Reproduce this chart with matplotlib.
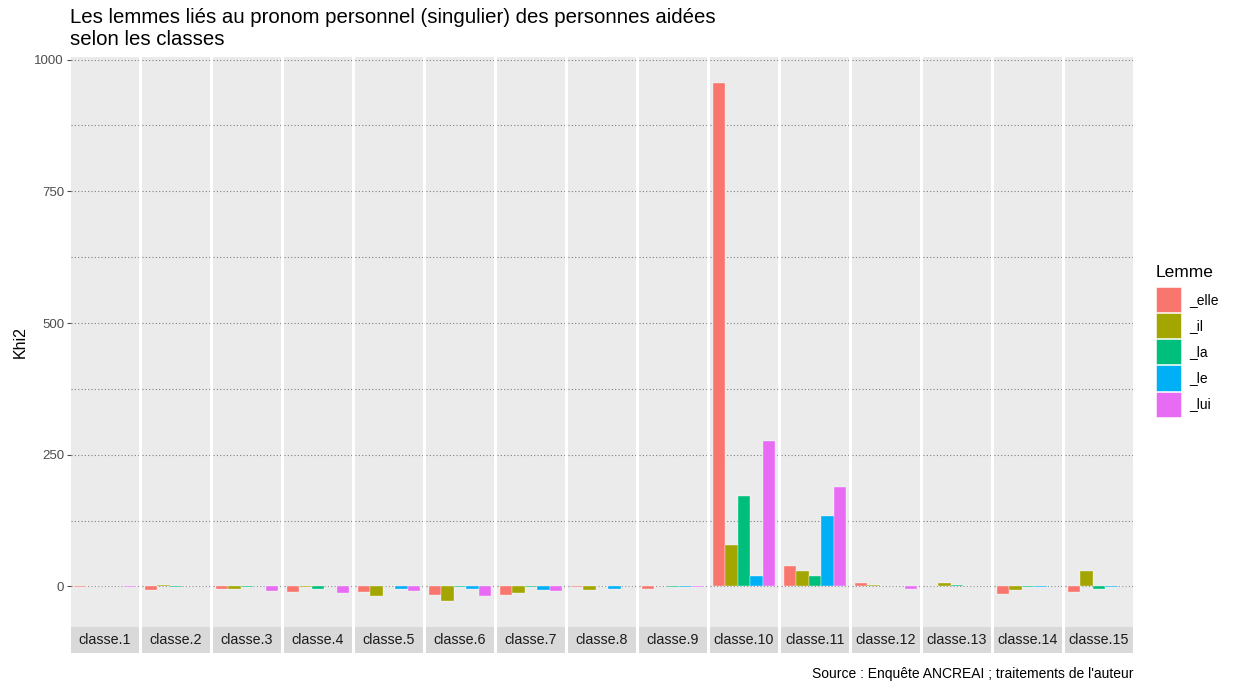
import numpy as np
import matplotlib.pyplot as plt
from matplotlib.patches import Patch

plt.rcParams['font.family'] = ['Liberation Sans', 'DejaVu Sans']

# Data (Khi2 per lemma and class)
classes = ['classe.%d' % i for i in range(1, 16)]
lemmes = ['_elle', '_il', '_la', '_le', '_lui']
colors = ['#F8766D', '#A3A500', '#00BF7D', '#00B0F6', '#E76BF3']

elle = [-2, -6, -5.5, -11, -11, -16.5, -17, -2, -4, 956, 39, 6.5, 0, -15, -11]
il = [0, 3, -4, -2, -19, -28, -12.5, -6, 0, 79, 30, 2.6, 6.5, -6, 30]
la = [0, -2, -2, -4, 0, -2, -2, 0, -2, 172, 20, 0, 2.5, -2, -4]
le = [0, 0, 0, 0, -4, -4, -6, -4, -2, 20, 133, 0, 0, -2, -2]
lui = [-2, 0, -9, -13, -8, -19, -8, 0, -2, 277, 188, -4, 0, 0, 0]
series = [elle, il, la, le, lui]

W, H = 1235, 684
fig = plt.figure(figsize=(W / 100, H / 100), dpi=100)

x0, x1 = 71, 1133
gap = 3
pw = (x1 - x0 - gap * (len(classes) - 1)) / len(classes)
ptop, pbot = 57, 627
sbot = 653
ylim = (-77, 1005)
bw = 0.18

for j, cl in enumerate(classes):
    left = x0 + j * (pw + gap)
    ax = fig.add_axes([left / W, 1 - pbot / H, pw / W, (pbot - ptop) / H])
    ax.set_facecolor('#EBEBEB')
    ax.set_ylim(*ylim)
    ax.set_xlim(0.508, 1.492)
    ax.set_yticks([0, 250, 500, 750, 1000])
    ax.set_yticks([125, 375, 625, 875], minor=True)
    ax.grid(True, which='both', axis='y', color='#7f7f7f', linestyle=(0, (1, 2)), linewidth=0.8)
    ax.set_axisbelow(True)
    for k, vals in enumerate(series):
        ax.bar(1 + (k - 2) * bw, vals[j], width=bw, color=colors[k],
               edgecolor='white', linewidth=0.25)
    for s in ax.spines.values():
        s.set_visible(False)
    ax.set_xticks([])
    if j == 0:
        ax.tick_params(axis='y', which='major', length=3, color='#4d4d4d',
                       labelsize=9.5, labelcolor='#4d4d4d', pad=2)
        ax.tick_params(axis='y', which='minor', length=0)
        ax.set_ylabel('Khi2', fontsize=11.5, labelpad=5)
    else:
        ax.tick_params(axis='y', which='both', length=0, labelleft=False)

    # strip below the panel
    sax = fig.add_axes([left / W, 1 - sbot / H, pw / W, (sbot - pbot) / H])
    sax.set_facecolor('#D9D9D9')
    sax.set_xticks([])
    sax.set_yticks([])
    for s in sax.spines.values():
        s.set_visible(False)
    sax.text(0.5, 0.5, cl, ha='center', va='center', fontsize=10.3,
             color='#1a1a1a', transform=sax.transAxes)

fig.text(70 / W, 1 - 8 / H, 'Les lemmes liés au pronom personnel (singulier) des personnes aidées\nselon les classes',
         ha='left', va='top', fontsize=14.7, linespacing=1.2)
fig.text(x1 / W, 1 - 674 / H, "Source : Enquête ANCREAI ; traitements de l'auteur",
         ha='right', va='center', fontsize=10)

handles = [Patch(facecolor=c, edgecolor='white', linewidth=0.4) for c in colors]
leg = fig.legend(handles, lemmes, loc='upper left', bbox_to_anchor=(1156 / W, 1 - 265 / H),
                 frameon=False, fontsize=10, title='Lemme', title_fontsize=12.5,
                 handlelength=1.8, handleheight=2.4, labelspacing=0.08,
                 handletextpad=0.6, borderpad=0, borderaxespad=0)
leg._legend_box.align = 'left'
leg._legend_box.sep = 5

fig.savefig('out.png', dpi=100)
